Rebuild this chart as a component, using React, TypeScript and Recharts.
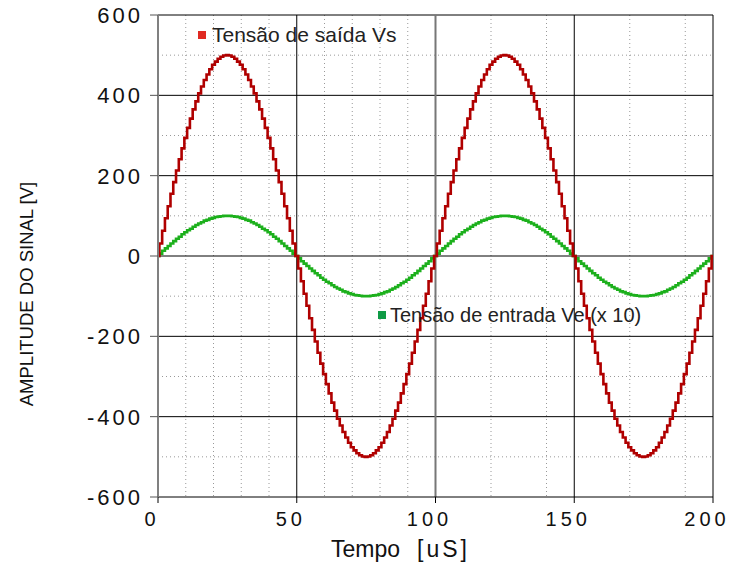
import { LineChart, Line, XAxis, YAxis, CartesianGrid } from 'recharts';

// sampled every 1 uS, t = 0..200
const sampleStepUs = 1;

// Tensão de saída Vs [V]
const outputVs = [
  0, 31, 63, 94, 124, 155, 184, 213, 241, 268, 294, 319, 342, 365, 385, 405, 422, 438, 452, 465, 476, 484, 491, 496, 499, 500,
  499, 496, 491, 484, 476, 465, 452, 438, 422, 405, 385, 365, 342, 319, 294, 268, 241, 213, 184, 155, 124, 94, 63, 31, 0,
  -31, -63, -94, -124, -155, -184, -213, -241, -268, -294, -319, -342, -365, -385, -405, -422, -438, -452, -465, -476, -484, -491, -496, -499, -500,
  -499, -496, -491, -484, -476, -465, -452, -438, -422, -405, -385, -365, -342, -319, -294, -268, -241, -213, -184, -155, -124, -94, -63, -31, 0,
  31, 63, 94, 124, 155, 184, 213, 241, 268, 294, 319, 342, 365, 385, 405, 422, 438, 452, 465, 476, 484, 491, 496, 499, 500,
  499, 496, 491, 484, 476, 465, 452, 438, 422, 405, 385, 365, 342, 319, 294, 268, 241, 213, 184, 155, 124, 94, 63, 31, 0,
  -31, -63, -94, -124, -155, -184, -213, -241, -268, -294, -319, -342, -365, -385, -405, -422, -438, -452, -465, -476, -484, -491, -496, -499, -500,
  -499, -496, -491, -484, -476, -465, -452, -438, -422, -405, -385, -365, -342, -319, -294, -268, -241, -213, -184, -155, -124, -94, -63, -31, 0,
];

// Tensão de entrada Ve (x 10) [V]
const inputVe = [
  0, 6, 13, 19, 25, 31, 37, 43, 48, 54, 59, 64, 68, 73, 77, 81, 84, 88, 90, 93, 95, 97, 98, 99, 100, 100,
  100, 99, 98, 97, 95, 93, 90, 88, 84, 81, 77, 73, 68, 64, 59, 54, 48, 43, 37, 31, 25, 19, 13, 6, 0,
  -6, -13, -19, -25, -31, -37, -43, -48, -54, -59, -64, -68, -73, -77, -81, -84, -88, -90, -93, -95, -97, -98, -99, -100, -100,
  -100, -99, -98, -97, -95, -93, -90, -88, -84, -81, -77, -73, -68, -64, -59, -54, -48, -43, -37, -31, -25, -19, -13, -6, 0,
  6, 13, 19, 25, 31, 37, 43, 48, 54, 59, 64, 68, 73, 77, 81, 84, 88, 90, 93, 95, 97, 98, 99, 100, 100,
  100, 99, 98, 97, 95, 93, 90, 88, 84, 81, 77, 73, 68, 64, 59, 54, 48, 43, 37, 31, 25, 19, 13, 6, 0,
  -6, -13, -19, -25, -31, -37, -43, -48, -54, -59, -64, -68, -73, -77, -81, -84, -88, -90, -93, -95, -97, -98, -99, -100, -100,
  -100, -99, -98, -97, -95, -93, -90, -88, -84, -81, -77, -73, -68, -64, -59, -54, -48, -43, -37, -31, -25, -19, -13, -6, 0,
];

const xTicks = [0, 50, 100, 150, 200];
const yTicks = [-600, -400, -200, 0, 200, 400, 600];
const xMinor = [10, 20, 30, 40, 60, 70, 80, 90, 110, 120, 130, 140, 160, 170, 180, 190];
const yMinor = [-500, -300, -100, 100, 300, 500];
const xMajor = [50, 150, 200];
const yMajor = [-400, -200, 0, 200, 400, 600];

const data = outputVs.map((vs, i) => ({ t: i * sampleStepUs, vs, ve: inputVe[i] }));

const FONT = '"Liberation Sans", Arial, sans-serif';

const XTick = ({ x, y, payload }: any) => (
  <text x={x} y={y} dy={21} dx={-6} textAnchor="middle" fontSize={20} letterSpacing={4} fill="#111" fontFamily={FONT}>
    {payload.value}
  </text>
);

const YTick = ({ x, y, payload }: any) => (
  <text x={x - 5} y={y} dy={8} textAnchor="end" fontSize={22} letterSpacing={3} fill="#111" fontFamily={FONT}>
    {payload.value}
  </text>
);

export default function App() {
  return (
    <div style={{ position: 'absolute', left: 0, top: 0, width: 732, height: 570, background: '#fff', fontFamily: FONT }}>
      <LineChart width={732} height={570} data={data} margin={{ top: 15, right: 19, bottom: 43, left: 98 }}>
        <CartesianGrid horizontalValues={yMinor} verticalValues={xMinor} stroke="#999" strokeDasharray="1 3" />
        <CartesianGrid horizontalValues={yMajor} verticalValues={xMajor} stroke="#000" strokeWidth={1} />
        <CartesianGrid horizontal={false} verticalValues={[100]} stroke="#777" strokeWidth={2} />
        <XAxis
          dataKey="t"
          type="number"
          domain={[0, 200]}
          ticks={xTicks}
          height={30}
          tickSize={6}
          tick={<XTick />}
          axisLine={{ stroke: '#000' }}
          tickLine={{ stroke: '#000' }}
        />
        <YAxis
          type="number"
          domain={[-600, 600]}
          ticks={yTicks}
          width={60}
          tickSize={8}
          tick={<YTick />}
          axisLine={{ stroke: '#808080', strokeWidth: 2 }}
          tickLine={{ stroke: '#555' }}
        />
        <Line type="step" dataKey="ve" stroke="#1cb01c" strokeWidth={2.6} dot={false} isAnimationActive={false} />
        <Line type="step" dataKey="vs" stroke="#b00000" strokeWidth={2.6} dot={false} isAnimationActive={false} />
      </LineChart>
      <svg width={732} height={570} style={{ position: 'absolute', left: 0, top: 0, pointerEvents: 'none' }}>
        <text
          transform="translate(33, 294) rotate(-90)"
          textAnchor="middle"
          fontSize={18.5}
          fill="#111"
          fontFamily={FONT}
        >
          AMPLITUDE DO SINAL [V]
        </text>
        <text x={331} y={557} fontSize={23} fill="#111" fontFamily={FONT}>
          Tempo
          <tspan dx={17} letterSpacing={3}>[uS]</tspan>
        </text>
        <rect x={198} y={31} width={8} height={8} fill="#e02a22" />
        <text x={212} y={42} fontSize={21} fill="#222" fontFamily={FONT}>
          Tensão de saída Vs
        </text>
        <rect x={378} y={311} width={8} height={8} fill="#0f9a45" />
        <text x={390} y={322} fontSize={20} fill="#222" fontFamily={FONT}>
          Tensão de entrada Ve (x 10)
        </text>
      </svg>
    </div>
  );
}
